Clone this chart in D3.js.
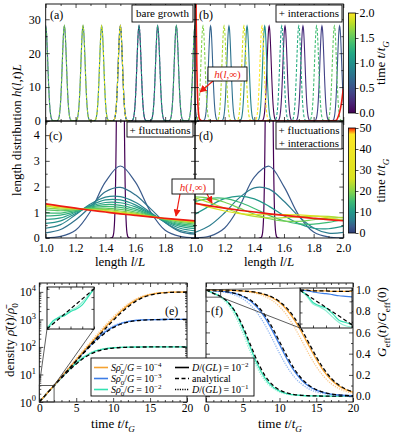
<!DOCTYPE html>
<html>
<head>
<meta charset="utf-8">
<script src="https://cdn.jsdelivr.net/npm/d3@7"></script>
<style>
  body { margin: 0; background: #fff; }
  svg { display: block; }
</style>
</head>
<body>
<svg id="fig" width="394" height="435"></svg>
<script>
// ---------- data ----------
// (a),(b): narrow peaks, one per time point; second cycle (t>1) drawn dashed
const peakTimes = [0, 0.125, 0.25, 0.375, 0.5, 0.625, 0.75, 0.875, 1, 1.125, 1.25, 1.375, 1.5, 1.625, 1.75, 1.875, 2];
const peakPosA = [1.5, 1.625, 1.75, 1.875, 2.0, 1.125, 1.25, 1.375, 1.5, 1.625, 1.75, 1.875, 2.0, 1.125, 1.25, 1.375, 1.5];
const peakPosB = [1.5, 1.607, 1.728, 1.856, 1.975, 1.105, 1.229, 1.351, 1.47, 1.585, 1.70, 1.82, 1.94, 1.054, 1.196, 1.33, 1.452];
const peakHeight = 28, peakWidth = 0.0141;
// h(l,inf) in (b): steep at both edges
const redBl = [1.0, 1.004, 1.008, 1.012, 1.016, 1.02, 1.025, 1.03, 1.05, 1.9, 1.95, 1.966, 1.98, 1.99, 1.995, 2.0];
const redBh = [80, 50, 30, 17, 9, 4.5, 1.8, 0.6, 0, 0, 0.1, 1.3, 3.5, 6, 7.8, 9.5];

// (c),(d): broad distributions on a length grid
const lGrid = [1.0, 1.1, 1.2, 1.3, 1.4, 1.5, 1.6, 1.7, 1.8, 1.9, 2.0];
const cTimes = [3, 5, 7, 9, 11, 13, 15, 17, 20, 24, 30];
const cCurves = [
  [0.01, 0.06, 0.30, 1.04, 2.18, 2.80, 2.18, 1.04, 0.30, 0.06, 0.01],
  [0.20, 0.33, 0.70, 1.22, 1.80, 1.97, 1.68, 1.15, 0.60, 0.25, 0.15],
  [0.38, 0.52, 0.905, 1.32, 1.59, 1.61, 1.39, 1.00, 0.60, 0.30, 0.19],
  [0.57, 0.665, 0.955, 1.27, 1.48, 1.48, 1.29, 0.965, 0.63, 0.38, 0.28],
  [0.72, 0.78, 1.00, 1.23, 1.38, 1.37, 1.21, 0.94, 0.66, 0.45, 0.36],
  [0.86, 0.89, 1.03, 1.20, 1.30, 1.27, 1.13, 0.91, 0.68, 0.51, 0.43],
  [0.98, 0.97, 1.065, 1.17, 1.23, 1.19, 1.07, 0.89, 0.70, 0.56, 0.49],
  [1.09, 1.06, 1.095, 1.14, 1.16, 1.11, 1.01, 0.87, 0.72, 0.61, 0.545],
  [1.17, 1.12, 1.12, 1.12, 1.11, 1.05, 0.965, 0.85, 0.74, 0.645, 0.585],
  [1.24, 1.17, 1.135, 1.10, 1.07, 1.006, 0.93, 0.84, 0.75, 0.675, 0.62],
  [1.28, 1.205, 1.147, 1.09, 1.04, 0.973, 0.905, 0.83, 0.757, 0.695, 0.64]
];
const redC = [1.33, 1.24, 1.16, 1.08, 1.01, 0.94, 0.88, 0.82, 0.765, 0.715, 0.665];
const dTimes = [3, 6, 10, 15, 19, 23, 28];
const dCurves = [
  [0.01, 0.075, 0.39, 1.23, 2.37, 2.79, 2.00, 0.88, 0.23, 0.04, 0.01],
  [0.22, 0.49, 0.98, 1.57, 1.95, 1.90, 1.43, 0.84, 0.39, 0.19, 0.22],
  [0.92, 1.25, 1.53, 1.63, 1.52, 1.23, 0.87, 0.56, 0.38, 0.36, 0.46],
  [1.41, 1.54, 1.54, 1.39, 1.15, 0.88, 0.67, 0.55, 0.54, 0.61, 0.71],
  [1.60, 1.55, 1.39, 1.16, 0.93, 0.75, 0.66, 0.65, 0.71, 0.77, 0.80],
  [1.56, 1.37, 1.16, 0.97, 0.84, 0.78, 0.79, 0.82, 0.85, 0.84, 0.78],
  [1.38, 1.19, 1.05, 0.95, 0.91, 0.905, 0.91, 0.90, 0.86, 0.78, 0.69]
];
const redD = [1.35, 1.25, 1.16, 1.08, 1.01, 0.94, 0.88, 0.82, 0.765, 0.715, 0.67];

// (e): log10 of density, (f): normalised growth rate, on a time grid
const tGrid = d3.range(0, 21);
const eOrange = [0, 0.30, 0.60, 0.91, 1.22, 1.53, 1.84, 2.14, 2.44, 2.74, 3.02, 3.28, 3.51, 3.69, 3.82, 3.90, 3.95, 3.975, 3.988, 3.994, 3.997];
const eOrangeDot = [0, 0.30, 0.61, 0.93, 1.25, 1.57, 1.89, 2.20, 2.51, 2.81, 3.09, 3.34, 3.56, 3.73, 3.85, 3.92, 3.96, 3.98, 3.99, 3.995, 3.998];
const eOrangeAna = [0, 0.301, 0.600, 0.900, 1.199, 1.498, 1.797, 2.095, 2.389, 2.679, 2.959, 3.221, 3.455, 3.646, 3.788, 3.881, 3.936, 3.967, 3.983, 3.991, 3.996];
const eBlue = [0, 0.30, 0.60, 0.90, 1.21, 1.51, 1.80, 2.08, 2.34, 2.56, 2.73, 2.85, 2.92, 2.96, 2.98, 2.99, 2.995, 2.997, 2.998, 2.999, 3.0];
const eBlueDot = [0, 0.30, 0.61, 0.92, 1.23, 1.54, 1.84, 2.13, 2.39, 2.60, 2.76, 2.87, 2.93, 2.965, 2.983, 2.992, 2.996, 2.998, 2.999, 3.0, 3.0];
const eBlueAna = [0, 0.300, 0.599, 0.897, 1.194, 1.487, 1.774, 2.049, 2.303, 2.524, 2.699, 2.824, 2.903, 2.949, 2.973, 2.986, 2.993, 2.997, 2.998, 2.999, 3.0];
const eGreen = [0, 0.30, 0.59, 0.88, 1.16, 1.41, 1.62, 1.78, 1.88, 1.94, 1.97, 1.985, 1.993, 1.997, 1.999, 2, 2, 2, 2, 2, 2];
const eGreenDot = [0, 0.30, 0.60, 0.89, 1.18, 1.44, 1.65, 1.80, 1.895, 1.947, 1.974, 1.988, 1.994, 1.997, 1.999, 2, 2, 2, 2, 2, 2];
const eGreenAna = [0, 0.296, 0.587, 0.871, 1.140, 1.384, 1.590, 1.748, 1.856, 1.922, 1.959, 1.979, 1.989, 1.995, 1.997, 1.999, 2, 2, 2, 2, 2];

const fGreen = [1.0, 0.969, 0.938, 0.881, 0.784, 0.639, 0.464, 0.298, 0.172, 0.092, 0.047, 0.024, 0.012, 0.006, 0.003, 0.002, 0.001, 0, 0, 0, 0];
const fGreenDot = [1.0, 0.963, 0.927, 0.861, 0.751, 0.597, 0.420, 0.262, 0.148, 0.079, 0.040, 0.020, 0.010, 0.005, 0.002, 0.001, 0, 0, 0, 0, 0];
const fGreenAna = [1.0, 0.968, 0.938, 0.884, 0.793, 0.658, 0.491, 0.327, 0.196, 0.109, 0.058, 0.030, 0.015, 0.008, 0.004, 0.002, 0.001, 0, 0, 0, 0];
const fBlue = [1.0, 0.993, 0.988, 0.979, 0.964, 0.938, 0.898, 0.833, 0.742, 0.622, 0.486, 0.352, 0.237, 0.152, 0.093, 0.056, 0.033, 0.019, 0.011, 0.006, 0.004];
const fBlueDot = [1.0, 0.990, 0.983, 0.971, 0.950, 0.916, 0.862, 0.782, 0.673, 0.542, 0.404, 0.280, 0.182, 0.114, 0.068, 0.040, 0.024, 0.014, 0.008, 0.005, 0.003];
const fBlueAna = [1.0, 0.994, 0.989, 0.981, 0.967, 0.944, 0.907, 0.848, 0.763, 0.648, 0.514, 0.378, 0.258, 0.166, 0.103, 0.062, 0.036, 0.021, 0.012, 0.007, 0.004];
const fOrange = [1.0, 0.999, 0.998, 0.997, 0.994, 0.990, 0.984, 0.973, 0.955, 0.926, 0.881, 0.813, 0.720, 0.604, 0.474, 0.347, 0.239, 0.157, 0.099, 0.061, 0.037];
const fOrangeDot = [1.0, 0.998, 0.997, 0.995, 0.992, 0.987, 0.978, 0.963, 0.939, 0.901, 0.843, 0.761, 0.653, 0.526, 0.396, 0.280, 0.187, 0.119, 0.074, 0.045, 0.027];
const fOrangeAna = [1.0, 0.999, 0.998, 0.997, 0.995, 0.991, 0.985, 0.975, 0.959, 0.933, 0.891, 0.829, 0.741, 0.629, 0.5, 0.371, 0.259, 0.171, 0.109, 0.067, 0.041];

// insets (early times)
const insetT = [0, 0.25, 0.5, 0.75, 1.0, 1.25, 1.5, 1.75, 2.0];
const eInsetGreen = [0, 0.12, 0.17, 0.20, 0.26, 0.30, 0.36, 0.48, 0.60];
const eInsetGreenDot = [0, 0.09, 0.18, 0.22, 0.28, 0.32, 0.40, 0.50, 0.60];
const eInsetAna = [0, 0.60];
const fInsetGreen = [1.0, 0.992, 0.978, 0.972, 0.968, 0.958, 0.946, 0.942, 0.938];
const fInsetGreenDot = [1.0, 0.990, 0.975, 0.970, 0.963, 0.952, 0.942, 0.936, 0.934];
const fInsetAna = [1.0, 0.938];
const fInsetBlue = [1.0, 0.999, 0.997, 0.995, 0.994, 0.992, 0.990, 0.989, 0.988];
const fInsetOrange = [1.0, 1.0, 0.999, 0.999, 0.999, 0.998, 0.998, 0.998, 0.998];

// ---------- setup ----------
const FONT = '"Liberation Serif","DejaVu Serif",serif';
const RED = "#ee1c12";
const ORANGE = "#f5a231", ORANGE_L = "#fbc98a";
const BLUE = "#3c7de6", BLUE_L = "#8fb6f2";
const GREEN = "#33e2b2", GREEN_L = "#93f0d6";

const svg = d3.select("#fig").attr("font-family", FONT);
const defs = svg.append("defs");

const xA = d3.scaleLinear([1, 2], [45.7, 195]);
const xB = d3.scaleLinear([1, 2], [195, 343.3]);
const yTop = d3.scaleLinear([0, 34.5], [121, 4]);
const yMid = d3.scaleLinear([0, 4.55], [238, 121]);
const xE = d3.scaleLinear([0, 20], [39.3, 187]);
const yE = d3.scaleLog([1, 21000], [402, 283]);
const xF = d3.scaleLinear([0, 20], [206, 353]);
const yF = d3.scaleLinear([-0.055, 1.065], [402, 283]);

// colormap for the long-time panels: viridis-like, red at the top for t -> inf
const cmapLong = d3.scaleLinear()
  .domain([0, 3, 6, 10, 15, 20, 26, 47, 50])
  .range(["#2e3d77", "#3b5b8c", "#2c7d8e", "#23988a", "#3dbb74", "#86d549", "#d9e21f", "#fde725", "#ff2000"]);
const cmapShort = t => d3.interpolateViridis(t / 2);

function clip(id, x, y) {
  const [x0, x1] = x.range(), [y0, y1] = y.range();
  defs.append("clipPath").attr("id", id).append("rect")
    .attr("x", x0).attr("y", y1).attr("width", x1 - x0).attr("height", y0 - y1);
  return `url(#${id})`;
}

// rich text: parts = [[text, kind]] kind: "", "i", "sub", "sup", "isub"
function rich(sel, parts, size) {
  let shift = 0;
  for (const [s, k] of parts) {
    const t = sel.append("tspan").text(s);
    if (k[0] === "i") t.attr("font-style", "italic");
    const isSub = k.endsWith("sub"), isSup = k.endsWith("sup");
    const target = isSub ? size * 0.3 : isSup ? -size * 0.42 : 0;
    if (target !== shift) { t.attr("dy", target - shift); shift = target; }
    if (isSub || isSup) t.attr("font-size", size * 0.7);
  }
  return sel;
}
function label(x, y, parts, size, opts = {}) {
  const t = svg.append("text").attr("x", x).attr("y", y).attr("font-size", size)
    .attr("text-anchor", opts.anchor || "middle").attr("fill", opts.fill || "#000");
  if (opts.rotate) t.attr("transform", `rotate(${opts.rotate},${x},${y})`);
  return rich(t, parts, size);
}
function textBox(x, y, w, h, lines, size, color) {
  svg.append("rect").attr("x", x).attr("y", y).attr("width", w).attr("height", h)
    .attr("fill", "#fff").attr("stroke", "#000").attr("stroke-width", 0.9);
  lines.forEach((parts, i) => label(x + w / 2, y + size + 1 + i * (size + 1.5), parts, size, { fill: color }));
}

// inward ticks on all four sides plus frame
function axes(x, y, o) {
  const g = svg.append("g");
  const [xl, xr] = x.range(), [yb, yt] = y.range();
  const big = o.big || 4, small = o.small || 2;
  const put = (axis, tx, ty) => {
    const a = g.append("g").attr("transform", `translate(${tx},${ty})`).call(axis)
      .attr("font-family", null).attr("font-size", o.fs || 12);
    a.select(".domain").remove();
    a.selectAll(".tick line").attr("stroke-width", 0.7);
    return a;
  };
  const none = () => "";
  const sides = [
    [d3.axisBottom, x, 0, yb, o.xMajor, o.xMinor, o.xFmt, o.xPad],
    [d3.axisTop, x, 0, yt, o.xMajor, o.xMinor, null, 4],
    [d3.axisLeft, y, xl, 0, o.yMajor, o.yMinor, o.yLeftFmt, o.yPad],
    [d3.axisRight, y, xr, 0, o.yMajor, o.yMinor, o.yRightFmt, o.yPad]
  ];
  sides.forEach(([f, s, tx, ty, maj, min, fmt, pad]) => {
    if (maj) put(f(s).tickValues(maj).tickSize(-big).tickPadding(pad || 4).tickFormat(fmt || none), tx, ty);
    if (min) put(f(s).tickValues(min).tickSize(-small).tickFormat(none), tx, ty);
  });
  g.append("rect").attr("x", xl).attr("y", yt).attr("width", xr - xl).attr("height", yb - yt)
    .attr("fill", "none").attr("stroke", "#000").attr("stroke-width", 0.9);
  return g;
}

const line = (x, y, curve) => d3.line().x(d => x(d[0])).y(d => y(d[1])).curve(curve || d3.curveLinear);

function peak(g, x, y, pos, color, dashed, width) {
  const centres = [pos];
  if (pos > 1.93) centres.push(pos - 1);
  if (pos < 1.07) centres.push(pos + 1);
  centres.forEach(c => {
    const pts = d3.range(-0.07, 0.0701, 0.002)
      .map(d => [c + d, peakHeight * Math.exp(-d * d / (2 * peakWidth * peakWidth))]);
    g.append("path").datum(pts).attr("d", line(x, y)(pts))
      .attr("fill", "none").attr("stroke", color).attr("stroke-width", width || 1.1)
      .attr("stroke-dasharray", dashed ? "3,1.8" : null);
  });
}

// ---------- (a) bare growth ----------
const gA = svg.append("g").attr("clip-path", clip("clipA", xA, yTop));
peakTimes.forEach((t, i) => { if (t <= 1) peak(gA, xA, yTop, peakPosA[i], cmapShort(t), false); });
peakTimes.forEach((t, i) => { if (t > 1) peak(gA, xA, yTop, peakPosA[i], cmapShort(t), true); });

// ---------- (b) + interactions ----------
const gB = svg.append("g").attr("clip-path", clip("clipB", xB, yTop));
peakTimes.forEach((t, i) => { if (t <= 1) peak(gB, xB, yTop, peakPosB[i], cmapShort(t), false); });
peakTimes.forEach((t, i) => { if (t > 1) peak(gB, xB, yTop, peakPosB[i], cmapShort(t), true); });
gB.append("path").attr("d", line(xB, yTop, d3.curveMonotoneX)(redBl.map((l, i) => [l, redBh[i]])))
  .attr("fill", "none").attr("stroke", RED).attr("stroke-width", 1.6);

// ---------- (c),(d) ----------
function longPanel(id, x, curves, times, red) {
  const g = svg.append("g").attr("clip-path", clip(id, x, yMid));
  peak(g, x, yMid, 1.5, "#440154", false, 1.2);
  curves.forEach((c, k) => {
    g.append("path").attr("d", line(x, yMid, d3.curveCatmullRom)(lGrid.map((l, i) => [l, c[i]])))
      .attr("fill", "none").attr("stroke", cmapLong(times[k])).attr("stroke-width", 1.2);
  });
  g.append("path").attr("d", line(x, yMid, d3.curveCatmullRom)(lGrid.map((l, i) => [l, red[i]])))
    .attr("fill", "none").attr("stroke", RED).attr("stroke-width", 1.7);
}
longPanel("clipC", xA, cCurves, cTimes, redC);
longPanel("clipD", xB, dCurves, dTimes, redD);

// axes a-d
const lMajor = [1.0, 1.2, 1.4, 1.6, 1.8, 2.0];
const lMinor = [1.1, 1.3, 1.5, 1.7, 1.9];
axes(xA, yTop, { xMajor: lMajor, xMinor: lMinor, yMajor: [0, 10, 20, 30], yMinor: [5, 15, 25], yLeftFmt: d3.format("d"), yPad: 5 });
axes(xB, yTop, { xMajor: lMajor, xMinor: lMinor, yMajor: [0, 10, 20, 30], yMinor: [5, 15, 25] });
axes(xA, yMid, { xMajor: lMajor, xMinor: lMinor, xFmt: v => v < 1.9 ? d3.format(".1f")(v) : "", xPad: 5,
  yMajor: [0, 1, 2, 3, 4], yMinor: [0.5, 1.5, 2.5, 3.5, 4.5], yLeftFmt: d3.format("d"), yPad: 6 });
axes(xB, yMid, { xMajor: lMajor, xMinor: lMinor, xFmt: d3.format(".1f"), xPad: 5,
  yMajor: [0, 1, 2, 3, 4], yMinor: [0.5, 1.5, 2.5, 3.5, 4.5] });

// panel tags and boxes
[["(a)", 50, 19], ["(b)", 199, 19], ["(c)", 49, 140], ["(d)", 199, 140], ["(e)", 165, 315], ["(f)", 211, 315]]
  .forEach(([s, x, y]) => label(x, y, [[s, ""]], 12, { anchor: "start" }));
textBox(132, 5, 61, 17, [[["bare growth", ""]]], 11);
textBox(276, 5, 66, 17, [[["+ interactions", ""]]], 11);
textBox(127, 122, 66, 15, [[["+ fluctuations", ""]]], 11);
textBox(276, 122, 66, 27, [[["+ fluctuations", ""]], [["+ interactions", ""]]], 11);

// h(l,inf) annotations
defs.append("marker").attr("id", "arr").attr("viewBox", "0 0 10 10").attr("refX", 9).attr("refY", 5)
  .attr("markerWidth", 6).attr("markerHeight", 6).attr("orient", "auto")
  .append("path").attr("d", "M0,0L10,5L0,10z").attr("fill", RED);
const hInf = [["h", "i"], ["(", ""], ["l", "i"], [",\u221e)", ""]];
[[213, 81, 200, 92], [180, 194, 176, 216], [207, 194, 212, 203]].forEach(([x1, y1, x2, y2]) =>
  svg.append("line").attr("x1", x1).attr("y1", y1).attr("x2", x2).attr("y2", y2)
    .attr("stroke", RED).attr("stroke-width", 1.2).attr("marker-end", "url(#arr)"));
svg.append("rect").attr("x", 208).attr("y", 67).attr("width", 39).attr("height", 14)
  .attr("fill", "#fff").attr("stroke", "#000").attr("stroke-width", 0.9);
label(227.5, 78, hInf, 11, { fill: RED });
svg.append("rect").attr("x", 172).attr("y", 179).attr("width", 42).attr("height", 15)
  .attr("fill", "#fff").attr("stroke", "#000").attr("stroke-width", 0.9);
label(193, 190.5, hInf, 11, { fill: RED });

// colorbars
function colorbar(id, y0, y1, domain, colorOf, stops, ticks, fmt) {
  const grad = defs.append("linearGradient").attr("id", id).attr("x1", 0).attr("y1", 1).attr("x2", 0).attr("y2", 0);
  stops.forEach(v => grad.append("stop").attr("offset", (v - domain[0]) / (domain[1] - domain[0])).attr("stop-color", colorOf(v)));
  const s = d3.scaleLinear(domain, [y1, y0]);
  svg.append("rect").attr("x", 348.5).attr("y", y0).attr("width", 7).attr("height", y1 - y0)
    .attr("fill", `url(#${id})`).attr("stroke", "#000").attr("stroke-width", 0.8);
  const a = svg.append("g").attr("transform", "translate(355.5,0)")
    .call(d3.axisRight(s).tickValues(ticks).tickSize(3).tickPadding(1).tickFormat(fmt))
    .attr("font-family", null).attr("font-size", 12);
  a.select(".domain").remove();
  a.selectAll(".tick line").attr("stroke-width", 0.7);
  label(385, (y0 + y1) / 2, [["time  ", ""], ["t", "i"], ["/", ""], ["t", "i"], ["G", "isub"]], 13, { rotate: -90 });
}
colorbar("cbTop", 13, 113, [0, 2], cmapShort, d3.range(0, 2.001, 0.2), [0, 0.5, 1, 1.5, 2], d3.format(".1f"));
colorbar("cbBot", 128, 233, [0, 50], cmapLong, cmapLong.domain(), [0, 10, 20, 30, 40, 50], d3.format("d"));

// shared labels a-d
label(21, 130, [["length distribution  ", ""], ["h", "i"], ["(", ""], ["l", "i"], [",", ""], ["t", "i"], [")", ""], ["L", "i"]], 13, { rotate: -90 });
label(120, 266, [["length  ", ""], ["l", "i"], ["/", ""], ["L", "i"]], 13);
label(269, 266, [["length  ", ""], ["l", "i"], ["/", ""], ["L", "i"]], 13);

// ---------- (e) density ----------
const gE = svg.append("g").attr("clip-path", clip("clipE", xE, yE));
const logPts = arr => tGrid.map((t, i) => [t, Math.pow(10, arr[i])]);
const linPts = arr => tGrid.map((t, i) => [t, arr[i]]);
function trio(g, x, y, pts, solid, dot, ana, col, colL) {
  const L = line(x, y, d3.curveMonotoneX);
  g.append("path").attr("d", L(pts(dot))).attr("fill", "none").attr("stroke", colL).attr("stroke-width", 1.3).attr("stroke-dasharray", "1.2,1.2");
  g.append("path").attr("d", L(pts(solid))).attr("fill", "none").attr("stroke", col).attr("stroke-width", 1.3);
  g.append("path").attr("d", L(pts(ana))).attr("fill", "none").attr("stroke", "#000").attr("stroke-width", 1.3).attr("stroke-dasharray", "4,2.5");
}
trio(gE, xE, yE, logPts, eGreen, eGreenDot, eGreenAna, GREEN, GREEN_L);
trio(gE, xE, yE, logPts, eBlue, eBlueDot, eBlueAna, BLUE, BLUE_L);
trio(gE, xE, yE, logPts, eOrange, eOrangeDot, eOrangeAna, ORANGE, ORANGE_L);

const decades = [1, 10, 100, 1000, 10000];
const logMinor = [];
decades.forEach(d => d3.range(2, 10).forEach(m => { if (d * m < 21000) logMinor.push(d * m); }));
axes(xE, yE, { xMajor: [0, 5, 10, 15, 20], xMinor: d3.range(1, 20).filter(v => v % 5), xFmt: d3.format("d"), xPad: 2,
  yMajor: decades, yMinor: logMinor, fs: 11.5 });
decades.forEach((d, k) => label(36, yE(d) + 4.5, [["10", ""], [String(k), "sup"]], 12, { anchor: "end" }));

// inset rect + inset (e)
const eR = { x0: xE(0), x1: xE(2), yb: yE(1), yt: yE(4) };
const xEi = d3.scaleLinear([0, 2], [47, 94]);
const yEi = d3.scaleLog([1, 4.25], [329, 287]);
svg.append("rect").attr("x", eR.x0).attr("y", eR.yt).attr("width", eR.x1 - eR.x0).attr("height", eR.yb - eR.yt)
  .attr("fill", "none").attr("stroke", "#333").attr("stroke-width", 0.8);
[[eR.x0, eR.yt, 47, 329], [eR.x1, eR.yt, 94, 329]].forEach(([a, b, c, d]) =>
  svg.append("line").attr("x1", a).attr("y1", b).attr("x2", c).attr("y2", d).attr("stroke", "#333").attr("stroke-width", 0.8));
svg.append("rect").attr("x", 47).attr("y", 287).attr("width", 47).attr("height", 42).attr("fill", "#fff");
const gEi = svg.append("g").attr("clip-path", clip("clipEi", xEi, yEi));
const Li = (x, y) => line(x, y, d3.curveMonotoneX);
gEi.append("path").attr("d", Li(xEi, yEi)(insetT.map((t, i) => [t, Math.pow(10, eInsetGreenDot[i])])))
  .attr("fill", "none").attr("stroke", GREEN_L).attr("stroke-width", 1.2);
gEi.append("path").attr("d", Li(xEi, yEi)(insetT.map((t, i) => [t, Math.pow(10, eInsetGreen[i])])))
  .attr("fill", "none").attr("stroke", GREEN).attr("stroke-width", 1.2);
gEi.append("path").attr("d", Li(xEi, yEi)([[0, Math.pow(10, eInsetAna[0])], [2, Math.pow(10, eInsetAna[1])]]))
  .attr("fill", "none").attr("stroke", "#000").attr("stroke-width", 1.2).attr("stroke-dasharray", "4,2.5");
axes(xEi, yEi, { xMajor: [0, 0.5, 1, 1.5, 2], yMajor: [1, 2, 3, 4], big: 2.5 });

// ---------- (f) growth rate ----------
const gF = svg.append("g").attr("clip-path", clip("clipF", xF, yF));
trio(gF, xF, yF, linPts, fGreen, fGreenDot, fGreenAna, GREEN, GREEN_L);
trio(gF, xF, yF, linPts, fBlue, fBlueDot, fBlueAna, BLUE, BLUE_L);
trio(gF, xF, yF, linPts, fOrange, fOrangeDot, fOrangeAna, ORANGE, ORANGE_L);
axes(xF, yF, { xMajor: [0, 5, 10, 15, 20], xMinor: d3.range(1, 20).filter(v => v % 5), xFmt: d3.format("d"), xPad: 2,
  yMajor: [0, 0.2, 0.4, 0.6, 0.8, 1.0], yMinor: [0.1, 0.3, 0.5, 0.7, 0.9], yRightFmt: d3.format(".1f"), yPad: 3, fs: 11.5 });

const xFi = d3.scaleLinear([0, 2], [300, 352]);
const yFi = d3.scaleLinear([0.932, 1.004], [328, 288]);
const fR = { x0: xF(0), x1: xF(2), yb: yF(0.932), yt: yF(1.004) };
svg.append("rect").attr("x", fR.x0).attr("y", fR.yt).attr("width", fR.x1 - fR.x0).attr("height", fR.yb - fR.yt)
  .attr("fill", "none").attr("stroke", "#333").attr("stroke-width", 0.8);
[[fR.x1, fR.yt, 300, 288], [fR.x1, fR.yb, 300, 328]].forEach(([a, b, c, d]) =>
  svg.append("line").attr("x1", a).attr("y1", b).attr("x2", c).attr("y2", d).attr("stroke", "#333").attr("stroke-width", 0.8));
svg.append("rect").attr("x", 300).attr("y", 288).attr("width", 52).attr("height", 40).attr("fill", "#fff");
const gFi = svg.append("g").attr("clip-path", clip("clipFi", xFi, yFi));
const insetLine = (arr, col, dash) => gFi.append("path")
  .attr("d", Li(xFi, yFi)(arr.length === 2 ? [[0, arr[0]], [2, arr[1]]] : insetT.map((t, i) => [t, arr[i]])))
  .attr("fill", "none").attr("stroke", col).attr("stroke-width", 1.2).attr("stroke-dasharray", dash || null);
insetLine(fInsetOrange, ORANGE);
insetLine(fInsetBlue, BLUE);
insetLine(fInsetGreenDot, GREEN_L);
insetLine(fInsetGreen, GREEN);
insetLine(fInsetOrange, "#000", "4,2.5");
insetLine(fInsetAna, "#000", "4,2.5");
axes(xFi, yFi, { xMajor: [0, 0.5, 1, 1.5, 2], yMajor: [0.94, 0.96, 0.98, 1.0], big: 2.5 });

// labels e, f
label(113, 428, [["time  ", ""], ["t", "i"], ["/", ""], ["t", "i"], ["G", "isub"]], 13);
label(280, 428, [["time  ", ""], ["t", "i"], ["/", ""], ["t", "i"], ["G", "isub"]], 13);
label(14, 340, [["density  ", ""], ["\u03c1\u0304", "i"], ["(", ""], ["t", "i"], [")/", ""], ["\u03c1\u0304", "i"], ["0", "sub"]], 13, { rotate: -90 });
label(386, 322, [["G", "i"], ["eff", "sub"], ["(", ""], ["t", "i"], [")/", ""], ["G", "i"], ["eff", "sub"], ["(0)", ""]], 13, { rotate: -90 });

// legend (overlaps into panel f)
svg.append("rect").attr("x", 91).attr("y", 358).attr("width", 163).attr("height", 38)
  .attr("fill", "#fff").attr("stroke", "#000").attr("stroke-width", 0.9);
const rowsY = [367.5, 378.5, 389.5];
const legCols = [ORANGE, BLUE, GREEN];
const legExp = ["\u22124", "\u22123", "\u22122"];
rowsY.forEach((y, i) => {
  svg.append("line").attr("x1", 94).attr("x2", 108).attr("y1", y).attr("y2", y).attr("stroke", legCols[i]).attr("stroke-width", 1.6);
  label(111, y + 3.5, [["S", "i"], ["\u03c1\u0304", "i"], ["0", "sub"], ["/", ""], ["G", "i"], ["\u2009=\u200910", ""], [legExp[i], "sup"]], 10, { anchor: "start" });
});
const legDash = [null, "4,2.5", "1.2,1.2"];
rowsY.forEach((y, i) => svg.append("line").attr("x1", 175).attr("x2", 189).attr("y1", y).attr("y2", y)
  .attr("stroke", "#000").attr("stroke-width", 1.6).attr("stroke-dasharray", legDash[i]));
label(192, rowsY[0] + 3.5, [["D", "i"], ["/(", ""], ["GL", "i"], [")\u2009=\u200910", ""], ["\u22122", "sup"]], 10, { anchor: "start" });
label(192, rowsY[1] + 3.5, [["analytical", ""]], 10, { anchor: "start" });
label(192, rowsY[2] + 3.5, [["D", "i"], ["/(", ""], ["GL", "i"], [")\u2009=\u200910", ""], ["\u22121", "sup"]], 10, { anchor: "start" });
</script>
</body>
</html>
